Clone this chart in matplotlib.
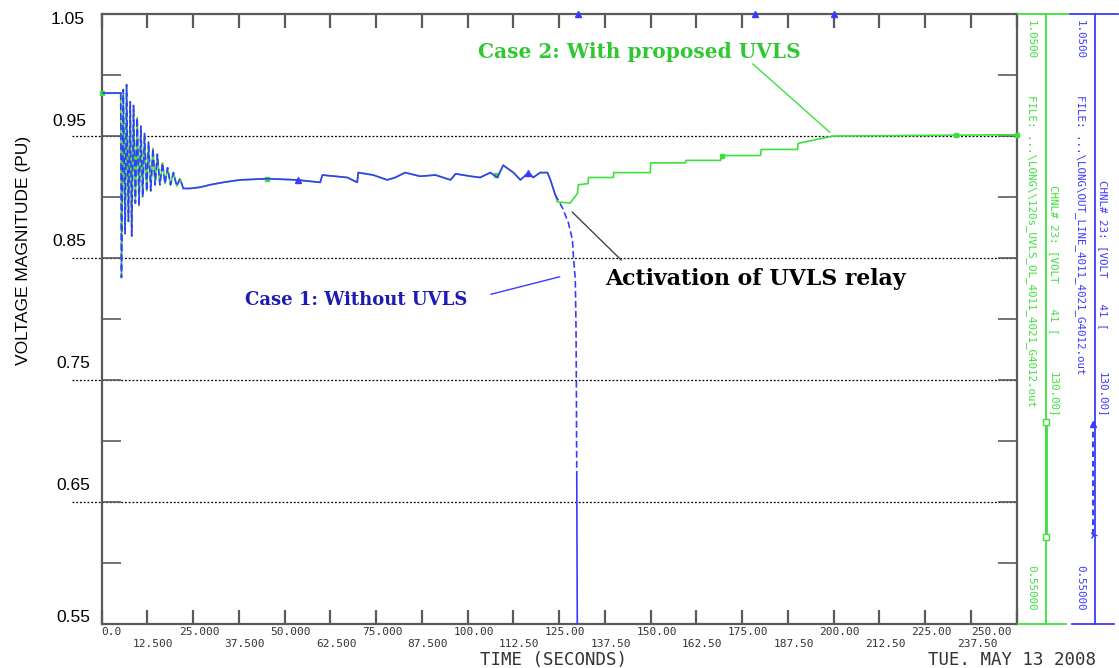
import matplotlib
matplotlib.use("Agg")
import matplotlib.pyplot as plt
from matplotlib.lines import Line2D
import numpy as np

W, H = 1119, 668

# ---- data -------------------------------------------------------------
# shared response before the UVLS relay acts (both cases identical)
common_time = [0.0, 5.0, 5.2, 5.4, 5.9, 6.4, 6.8, 7.3, 7.8, 8.2, 8.7, 9.2, 9.7,
               10.2, 10.7, 11.2, 11.7, 12.3, 12.8, 13.4, 14.0, 14.6, 15.2, 15.9,
               16.6, 17.3, 18.0, 18.8, 19.6, 20.5, 21.4, 22.3, 24.1, 26.9, 29.6,
               33.2, 37.8, 45.2, 53.4, 59.7, 60.3, 67.1, 69.8, 70.1, 74.2, 78.0,
               80.2, 82.9, 87.0, 91.2, 95.3, 96.7, 100.8, 103.4, 106.2, 108.1,
               109.7, 112.5, 114.4, 116.6, 117.9, 119.8, 121.8, 122.6, 123.9]
common_volt = [0.985, 0.985, 0.985, 0.834, 0.988, 0.870, 0.992, 0.880, 0.978,
               0.868, 0.975, 0.895, 0.965, 0.893, 0.958, 0.900, 0.952, 0.905,
               0.945, 0.905, 0.940, 0.910, 0.935, 0.910, 0.928, 0.911, 0.924,
               0.910, 0.920, 0.909, 0.915, 0.907, 0.907, 0.908, 0.910, 0.912,
               0.914, 0.915, 0.914, 0.912, 0.918, 0.916, 0.912, 0.920, 0.918,
               0.914, 0.916, 0.920, 0.917, 0.918, 0.914, 0.919, 0.917, 0.916,
               0.920, 0.916, 0.926, 0.920, 0.914, 0.920, 0.916, 0.920, 0.920,
               0.914, 0.902]

# case 1: no load shedding -> voltage collapse
case1_tail_time = [125.9, 127.5, 128.6, 128.9, 129.4, 129.6, 129.7, 129.75,
                   129.8, 130.0]
case1_tail_volt = [0.891, 0.879, 0.865, 0.851, 0.832, 0.791, 0.742, 0.700,
                   0.672, 0.500]

# case 2: proposed UVLS sheds load in steps
case2_tail_time = [124.5, 128.0, 130.0, 130.2, 132.9, 133.0, 139.8, 139.9,
                   149.9, 150.0, 159.5, 159.6, 169.1, 169.6, 180.0, 180.2,
                   190.1, 190.3, 199.9, 250.0]
case2_tail_volt = [0.896, 0.895, 0.903, 0.910, 0.911, 0.916, 0.916, 0.920,
                   0.920, 0.928, 0.928, 0.930, 0.930, 0.934, 0.934, 0.939,
                   0.939, 0.944, 0.950, 0.951]

# plot symbols placed along each trace
case1_marker_time = [53.7, 116.6]
case1_marker_volt = [0.914, 0.920]
case1_top_marker_time = [130.0, 178.6, 200.0]
case2_marker_time = [0.0, 45.2, 107.6, 169.6, 233.3, 250.0]
case2_marker_volt = [0.985, 0.915, 0.918, 0.934, 0.951, 0.951]

x_ticks = [12.5 * i for i in range(21)]
x_tick_labels = ["0.0", "12.500", "25.000", "37.500", "50.000", "62.500",
                 "75.000", "87.500", "100.00", "112.50", "125.00", "137.50",
                 "150.00", "162.50", "175.00", "187.50", "200.00", "212.50",
                 "225.00", "237.50", "250.00"]
y_grid = [0.95, 0.85, 0.75, 0.65]
y_tick_labels = ["1.05", "0.95", "0.85", "0.75", "0.65", "0.55"]

# ---- styling ----------------------------------------------------------
BLUE = "#3a3aff"
DBLUE = "#1c1cb4"
GREEN = "#3ee03e"
DGREEN = "#30c830"
FRAME = "#5a5a5a"
MONO = "DejaVu Sans Mono"
SERIF = "DejaVu Serif"


def fx(x):
    return x / W


def fy(y):
    return 1 - y / H


fig = plt.figure(figsize=(W / 100, H / 100), dpi=100)
fig.patch.set_facecolor("white")
ax = fig.add_axes([fx(101.7), fy(624), fx(1016.7) - fx(101.7), fy(14) - fy(624)])
ax.set_xlim(0, 250)
ax.set_ylim(0.55, 1.05)

for s in ax.spines.values():
    s.set_color(FRAME)
    s.set_linewidth(1.6)

ax.set_xticks(x_ticks)
ax.set_xticklabels([])
ax.set_yticks([0.55 + 0.05 * i for i in range(11)])
ax.set_yticklabels([])
ax.tick_params(axis="x", direction="in", length=10, width=1.6, color=FRAME,
               top=True, bottom=True)
ax.tick_params(axis="y", direction="in", length=14, width=1.2, color=FRAME,
               left=True, right=True)

# dotted reference levels extending under the labels
for g in y_grid:
    ax.plot([-8.1, 250], [g, g], linestyle=(0, (1.5, 1.5)), color="black",
            lw=0.9, clip_on=False, zorder=1)

# ---- traces -----------------------------------------------------------
case2_time = common_time + case2_tail_time
case2_volt = common_volt + case2_tail_volt
case1_time = common_time + case1_tail_time
case1_volt = common_volt + case1_tail_volt

ax.plot(case2_time, case2_volt, color=GREEN, lw=1.2, zorder=3)
ax.plot(case2_marker_time, case2_marker_volt, linestyle="none", marker="s",
        ms=3.5, color=GREEN, zorder=4, clip_on=False)

t1 = np.array(case1_time)
v1 = np.array(case1_volt)


def seg(lo, hi):
    m = (t1 >= lo) & (t1 <= hi)
    return t1[m], v1[m]


tt, vv = seg(0, 5.2)
ax.plot(tt, vv, color=BLUE, lw=1.2, zorder=5)
tt, vv = seg(5.2, 22.3)
ax.plot(tt, vv, color=BLUE, lw=1.2, linestyle=(0, (4, 2)), zorder=5)
tt, vv = seg(22.3, 123.9)
ax.plot(tt, vv, color=BLUE, lw=1.2, zorder=5)
tt, vv = seg(123.9, 129.8)
ax.plot(tt, vv, color=BLUE, lw=1.2, linestyle=(0, (4, 2)), zorder=5)
tt, vv = seg(129.8, 131)
ax.plot(tt, vv, color=BLUE, lw=1.2, zorder=5)
ax.plot(case1_marker_time, case1_marker_volt, linestyle="none", marker="^",
        ms=4, color=BLUE, zorder=6)
ax.plot(case1_top_marker_time, [1.05] * len(case1_top_marker_time),
        linestyle="none", marker="^", ms=4, color=BLUE, zorder=6, clip_on=False)

# ---- annotations ------------------------------------------------------
ax.text(102.9, 1.019, "Case 2: With proposed UVLS", color=DGREEN,
        fontsize=14.5, fontweight="bold", family=SERIF, ha="left", va="center")
ax.annotate("", xy=(199.5, 0.9515), xytext=(177.3, 1.0107),
            arrowprops=dict(arrowstyle="-", color=GREEN, lw=1.0))
ax.text(39.2, 0.8156, "Case 1: Without UVLS", color=DBLUE,
        fontsize=13, fontweight="bold", family=SERIF, ha="left", va="center")
ax.annotate("", xy=(125.9, 0.8352), xytext=(105.6, 0.8197),
            arrowprops=dict(arrowstyle="-", color=BLUE, lw=1.0))
ax.text(137.6, 0.8328, "Activation of UVLS relay", color="black",
        fontsize=15.8, fontweight="bold", family=SERIF, ha="left", va="center")
ax.annotate("", xy=(128.0, 0.8893), xytext=(142.5, 0.8467),
            arrowprops=dict(arrowstyle="-", color="#444444", lw=1.0))

# ---- axis labels ------------------------------------------------------
ytick_pos = {"1.05": (68, 20), "0.95": (69, 121), "0.85": (69, 242),
             "0.75": (73, 363), "0.65": (73, 486), "0.55": (73, 617)}
for lab in y_tick_labels:
    px, py = ytick_pos[lab]
    fig.text(fx(px), fy(py), lab, fontsize=12.5, family="Liberation Sans",
             ha="center", va="center", color="black")
fig.text(fx(24), fy(250), "VOLTAGE MAGNITUDE (PU)", rotation=90,
         fontsize=12.5, family="Liberation Sans", ha="center", va="center")

for i, (t, lab) in enumerate(zip(x_ticks, x_tick_labels)):
    xpix = 101.7 + t * 3.66
    if i == 0:
        fig.text(fx(101), fy(632), lab, fontsize=8, family=MONO,
                 color="#333333", ha="left", va="center")
        continue
    if i == 20:
        xpix = 991
    else:
        xpix += 6
    row_y = 632 if i % 2 == 0 else 644
    fig.text(fx(xpix), fy(row_y), lab, fontsize=8, family=MONO,
             color="#333333", ha="center", va="center")

fig.text(fx(554), fy(660), "TIME (SECONDS)", fontsize=12.5, family=MONO,
         color="#333333", ha="center", va="center")
fig.text(fx(1012), fy(660), "TUE. MAY 13 2008", fontsize=12.5, family=MONO,
         color="#333333", ha="center", va="center")


# ---- channel legend strip on the right --------------------------------
def vline(x, y0, y1, c, lw=1.3, ls="-"):
    fig.add_artist(Line2D([fx(x), fx(x)], [fy(y0), fy(y1)], color=c, lw=lw,
                          linestyle=ls))


def hline(x0, x1, y, c, lw=1.3):
    fig.add_artist(Line2D([fx(x0), fx(x1)], [fy(y), fy(y)], color=c, lw=lw))


hline(1018, 1068, 14, GREEN)
hline(1018, 1066, 624, GREEN)
hline(1070, 1118, 14, BLUE)
hline(1072, 1114, 624, BLUE)
vline(1046, 14, 624, GREEN)
vline(1095, 14, 624, BLUE)

# green channel
gtxt = dict(fontsize=7.8, family=MONO, color=GREEN, rotation=270,
            ha="center", va="top")
fig.text(fx(1031), fy(20), "1.0500", **gtxt)
fig.text(fx(1031), fy(95), "FILE: ...\\LONG\\\\120s_UVLS_OL_4011_4021_G4012.out",
         **gtxt)
fig.text(fx(1031), fy(565), "0.55000", **gtxt)
fig.text(fx(1054), fy(185), "CHNL# 23: [VOLT    41 [", **gtxt)
fig.text(fx(1054), fy(372), "130.00]", **gtxt)
vline(1046, 422, 537, GREEN, lw=2.0)
fig.add_artist(Line2D([fx(1046)], [fy(422)], marker="s", ms=4, mfc="white",
                      mec=GREEN, color=GREEN))
fig.add_artist(Line2D([fx(1046)], [fy(537)], marker="s", ms=4, mfc="white",
                      mec=GREEN, color=GREEN))

# blue channel
btxt = dict(gtxt, color=BLUE)
fig.text(fx(1080), fy(20), "1.0500", **btxt)
fig.text(fx(1080), fy(95), "FILE: ...\\LONG\\OUT_LINE_4011_4021_G4012.out",
         **btxt)
fig.text(fx(1080), fy(565), "0.55000", **btxt)
fig.text(fx(1103), fy(180), "CHNL# 23: [VOLT    41 [", **btxt)
fig.text(fx(1103), fy(372), "130.00]", **btxt)
fig.add_artist(Line2D([fx(1093), fx(1093)], [fy(422), fy(537)], color=BLUE,
                      lw=1.4, linestyle=(0, (3, 2))))
fig.add_artist(Line2D([fx(1093)], [fy(424)], marker="^", ms=5, color=BLUE))
fig.add_artist(Line2D([fx(1093)], [fy(535)], marker="4", ms=6, color=BLUE))

fig.savefig("out.png", dpi=100, facecolor="white")
